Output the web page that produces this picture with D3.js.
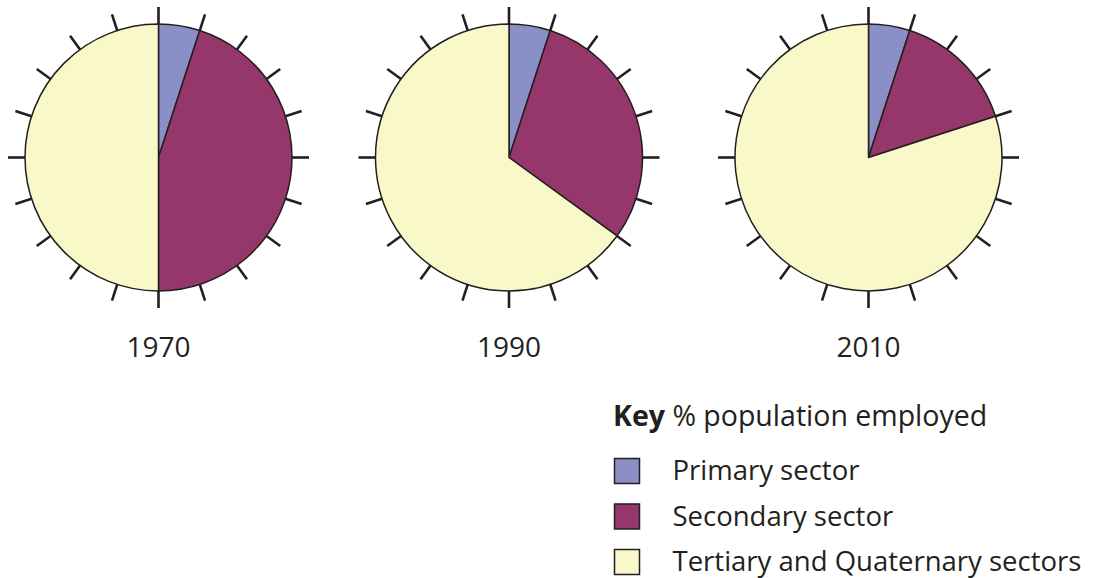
<!DOCTYPE html>
<html lang="en">
<head>
    <meta charset="UTF-8">
    <title>Employment by sector</title>
    <script src="https://d3js.org/d3.v7.min.js"></script>
    <style>
        body { margin: 0; background: #fff; }
        text { font-family: "Open Sans", "Noto Sans", sans-serif; fill: #231f20; }
    </style>
</head>
<body>
<div id="chart"></div>
<script>
    // data
    var years = ["1970", "1990", "2010"];
    var sectors = ["Primary sector", "Secondary sector", "Tertiary and Quaternary sectors"];
    var primary = [5, 5, 5];
    var secondary = [45, 30, 15];
    var tertiary = [50, 65, 80];
    var tickPercents = d3.range(0, 100, 5);

    var colours = ["#8a8fc5", "#95376b", "#f8f8c9"];
    var ink = "#231f20";

    var width = 1096, height = 578;
    var radius = 133.5;

    var svg = d3.select("#chart").append("svg")
        .attr("width", width)
        .attr("height", height);

    // pie centres are not quite evenly spaced in the original
    var xPos = d3.scaleOrdinal().domain(years).range([158.5, 509, 868.5]);
    var angle = d3.scaleLinear().domain([0, 100]).range([0, 2 * Math.PI]);
    var colour = d3.scaleOrdinal().domain(sectors).range(colours);

    var pie = d3.pie().sort(null).value(function (d) { return d.value; });
    var arc = d3.arc().innerRadius(0).outerRadius(radius);

    years.forEach(function (year, i) {
        var data = [
            {sector: sectors[0], value: primary[i]},
            {sector: sectors[1], value: secondary[i]},
            {sector: sectors[2], value: tertiary[i]}
        ];
        var g = svg.append("g")
            .attr("transform", "translate(" + xPos(year) + ",157.5)");

        // ticks round the outside, every 5%
        g.selectAll("line.tick")
            .data(tickPercents)
            .enter()
            .append("line")
            .attr("class", "tick")
            .attr("x1", function (d) { return Math.sin(angle(d)) * radius; })
            .attr("y1", function (d) { return -Math.cos(angle(d)) * radius; })
            .attr("x2", function (d) { return Math.sin(angle(d)) * (radius + 17); })
            .attr("y2", function (d) { return -Math.cos(angle(d)) * (radius + 17); })
            .attr("stroke", ink)
            .attr("stroke-width", 2.6);

        g.selectAll("path")
            .data(pie(data))
            .enter()
            .append("path")
            .attr("d", arc)
            .attr("fill", function (d) { return colour(d.data.sector); })
            .attr("stroke", ink)
            .attr("stroke-width", 1.5)
            .attr("stroke-linejoin", "round");

        svg.append("text")
            .attr("x", xPos(year))
            .attr("y", 356.5)
            .attr("text-anchor", "middle")
            .style("font-size", "28px")
            .text(year);
    });

    // key
    var key = svg.append("g");
    var title = key.append("text")
        .attr("x", 613)
        .attr("y", 426)
        .style("font-size", "28.5px");
    title.append("tspan").style("font-weight", "bold").text("Key");
    title.append("tspan").text(" % population employed");

    var rows = key.selectAll("g.row")
        .data(sectors)
        .enter()
        .append("g")
        .attr("class", "row")
        .attr("transform", function (d, i) { return "translate(0," + (i * 45.5) + ")"; });

    rows.append("rect")
        .attr("x", 614.5)
        .attr("y", 458.5)
        .attr("width", 25)
        .attr("height", 25)
        .attr("fill", function (d) { return colour(d); })
        .attr("stroke", ink)
        .attr("stroke-width", 1.5);

    rows.append("text")
        .attr("x", 672.5)
        .attr("y", 480)
        .style("font-size", "27.5px")
        .text(function (d) { return d; });
</script>
</body>
</html>
